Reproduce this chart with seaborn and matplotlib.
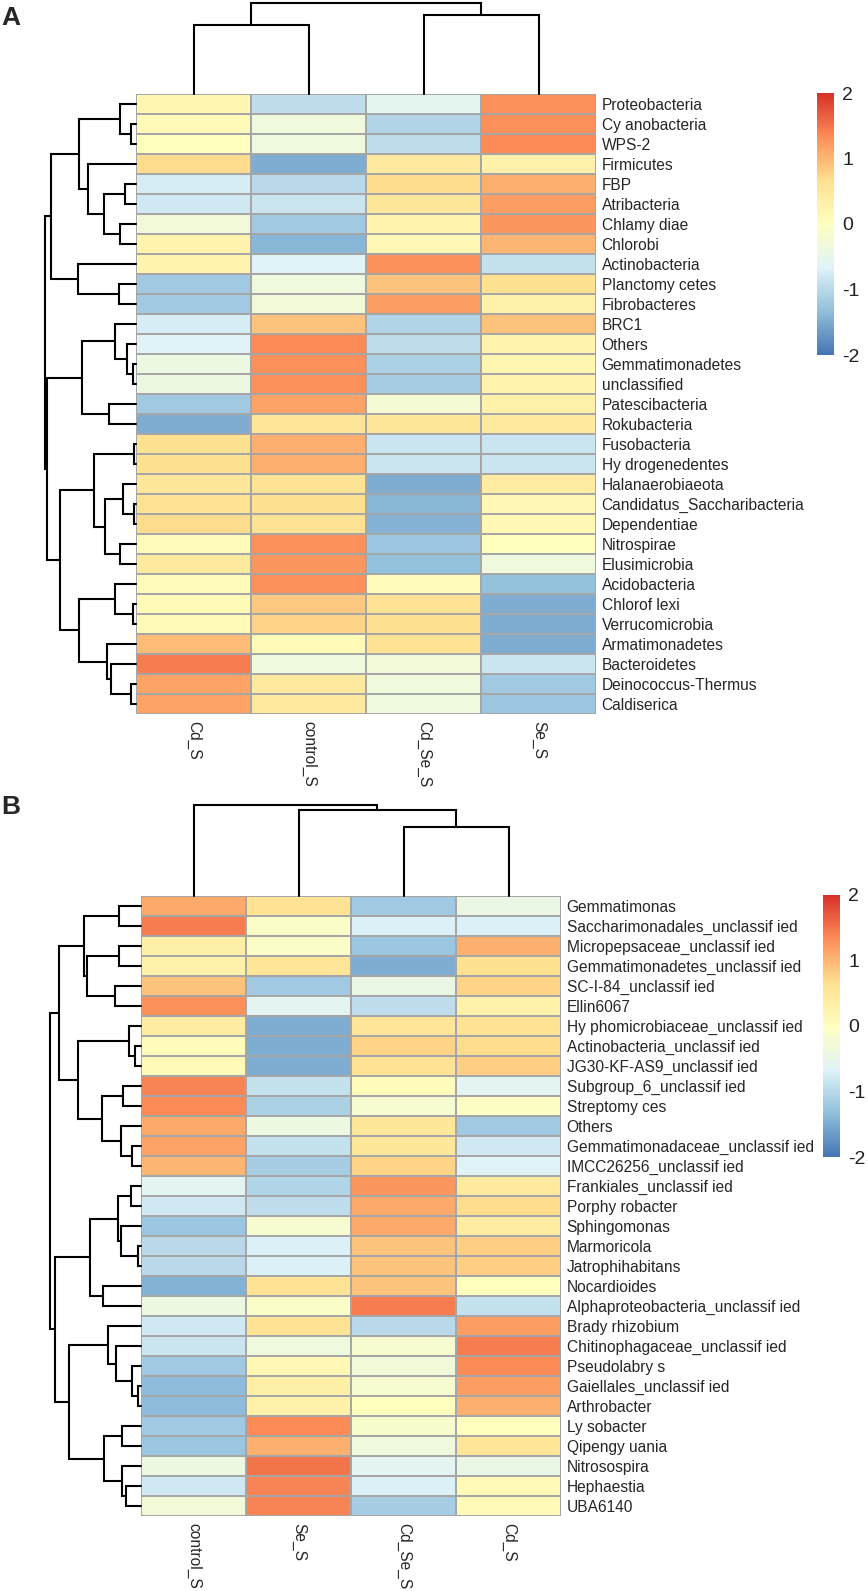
import matplotlib
matplotlib.use("Agg")
import numpy as np
import pandas as pd
import matplotlib.pyplot as plt
import seaborn as sns

# ---- panel A: phylum level (row z-scores) ----
A_cols = ["Cd_S", "control_S", "Cd_Se_S", "Se_S"]
A_rows = ["Proteobacteria", "Cy anobacteria", "WPS-2", "Firmicutes", "FBP",
          "Atribacteria", "Chlamy diae", "Chlorobi", "Actinobacteria",
          "Planctomy cetes", "Fibrobacteres", "BRC1", "Others",
          "Gemmatimonadetes", "unclassified", "Patescibacteria", "Rokubacteria",
          "Fusobacteria", "Hy drogenedentes", "Halanaerobiaeota",
          "Candidatus_Saccharibacteria", "Dependentiae", "Nitrospirae",
          "Elusimicrobia", "Acidobacteria", "Chlorof lexi", "Verrucomicrobia",
          "Armatimonadetes", "Bacteroidetes", "Deinococcus-Thermus", "Caldiserica"]
A_cd_s = [0.2, 0.1, 0.0, 0.7, -0.75, -0.8, -0.3, 0.25, 0.25, -1.2, -1.2,
          -0.75, -0.65, -0.4, -0.4, -1.2, -1.5, 0.65, 0.65, 0.5, 0.6, 0.7,
          0.05, 0.45, 0.05, 0.1, 0.1, 0.95, 1.45, 1.15, 1.15]
A_control_s = [-0.95, -0.35, -0.35, -1.5, -1.0, -0.85, -1.2, -1.4, -0.65,
               -0.35, -0.3, 0.9, 1.35, 1.3, 1.3, 1.15, 0.55, 1.05, 1.05, 0.6,
               0.65, 0.6, 1.3, 1.25, 1.3, 0.85, 0.75, 0.1, -0.35, 0.45, 0.45]
A_cd_se_s = [-0.55, -1.05, -0.95, 0.45, 0.7, 0.5, 0.25, 0.15, 1.3, 0.9, 1.2,
             -1.05, -0.95, -1.1, -1.15, -0.25, 0.5, -0.85, -0.85, -1.5, -1.4,
             -1.45, -1.25, -1.3, 0.05, 0.6, 0.65, 0.6, -0.3, -0.35, -0.35]
A_se_s = [1.3, 1.3, 1.35, 0.3, 1.05, 1.2, 1.25, 1.0, -0.9, 0.65, 0.3, 0.9,
          0.25, 0.2, 0.25, 0.3, 0.45, -0.85, -0.85, 0.4, 0.15, 0.15, 0.0,
          -0.35, -1.3, -1.5, -1.5, -1.5, -0.85, -1.2, -1.25]
# linkage: (child, child, height); ids >= n_leaves are earlier merges
A_row_tree = [(1, 2, 0.051), (0, 31, 0.18), (4, 5, 0.118), (6, 7, 0.18),
              (33, 34, 0.349), (3, 35, 0.529), (32, 36, 0.625), (9, 10, 0.191),
              (8, 38, 0.64), (37, 39, 0.9375), (13, 14, 0.037), (12, 41, 0.099),
              (11, 42, 0.235), (15, 16, 0.30), (43, 44, 0.596), (17, 18, 0.02),
              (20, 21, 0.02), (19, 47, 0.139), (22, 23, 0.18), (48, 49, 0.338),
              (46, 50, 0.464), (25, 26, 0.028), (24, 52, 0.233), (29, 30, 0.06),
              (28, 54, 0.273), (27, 55, 0.32), (53, 56, 0.63), (51, 57, 0.84),
              (45, 58, 0.978), (40, 59, 1.0)]
A_col_tree = [(0, 1, 0.762), (2, 3, 0.872), (4, 5, 1.0)]

# ---- panel B: genus level ----
B_cols = ["control_S", "Se_S", "Cd_Se_S", "Cd_S"]
B_rows = ["Gemmatimonas", "Saccharimonadales_unclassif ied",
          "Micropepsaceae_unclassif ied", "Gemmatimonadetes_unclassif ied",
          "SC-I-84_unclassif ied", "Ellin6067", "Hy phomicrobiaceae_unclassif ied",
          "Actinobacteria_unclassif ied", "JG30-KF-AS9_unclassif ied",
          "Subgroup_6_unclassif ied", "Streptomy ces", "Others",
          "Gemmatimonadaceae_unclassif ied", "IMCC26256_unclassif ied",
          "Frankiales_unclassif ied", "Porphy robacter", "Sphingomonas",
          "Marmoricola", "Jatrophihabitans", "Nocardioides",
          "Alphaproteobacteria_unclassif ied", "Brady rhizobium",
          "Chitinophagaceae_unclassif ied", "Pseudolabry s",
          "Gaiellales_unclassif ied", "Arthrobacter", "Ly sobacter",
          "Qipengy uania", "Nitrosospira", "Hephaestia", "UBA6140"]
B_control_s = [1.1, 1.45, 0.35, 0.3, 0.9, 1.3, 0.4, 0.05, 0.1, 1.4, 1.35,
               1.1, 1.15, 1.0, -0.6, -0.8, -1.25, -1.0, -1.0, -1.45, -0.4,
               -0.8, -0.85, -1.2, -1.35, -1.35, -1.2, -1.25, -0.4, -0.8, -0.3]
B_se_s = [0.6, -0.1, -0.1, 0.55, -1.2, -0.6, -1.5, -1.5, -1.5, -0.9, -1.1,
          -0.4, -0.9, -1.15, -1.05, -0.95, -0.2, -0.7, -0.7, 0.6, -0.1, 0.6,
          -0.35, 0.15, 0.35, 0.3, 1.35, 1.05, 1.5, 1.4, 1.4]
B_cd_se_s = [-1.2, -0.7, -1.25, -1.5, -0.45, -0.95, 0.55, 0.75, 0.6, 0.05,
             -0.2, 0.5, 0.5, 0.75, 1.25, 1.1, 1.1, 0.9, 0.9, 0.9, 1.45, -1.0,
             -0.2, -0.3, -0.2, 0.0, -0.15, -0.35, -0.6, -0.7, -1.15]
B_cd_s = [-0.45, -0.7, 1.05, 0.65, 0.75, 0.3, 0.6, 0.7, 0.8, -0.6, -0.05,
          -1.2, -0.8, -0.65, 0.45, 0.7, 0.4, 0.8, 0.8, 0.0, -0.9, 1.2, 1.45,
          1.35, 1.2, 1.05, 0.0, 0.55, -0.45, 0.1, 0.1]
B_row_tree = [(0, 1, 0.239), (2, 3, 0.239), (4, 5, 0.287), (32, 33, 0.588),
              (31, 34, 0.629), (7, 8, 0.066), (6, 36, 0.132), (9, 10, 0.195),
              (12, 13, 0.103), (11, 39, 0.224), (38, 40, 0.426), (37, 41, 0.691),
              (35, 42, 0.904), (14, 15, 0.11), (17, 18, 0.03), (16, 45, 0.224),
              (44, 46, 0.25), (19, 20, 0.415), (47, 48, 0.555), (24, 25, 0.03),
              (23, 50, 0.103), (22, 51, 0.276), (21, 52, 0.36), (26, 27, 0.213),
              (29, 30, 0.165), (28, 55, 0.213), (54, 56, 0.404), (53, 57, 0.794),
              (49, 58, 0.949), (43, 59, 1.0)]
B_col_tree = [(2, 3, 0.756), (1, 4, 0.949), (0, 5, 1.0)]

# pheatmap default palette (reversed RdYlBu, 7 colours)
RDYLBU7 = ["#4575B4", "#91BFDB", "#E0F3F8", "#FFFFBF", "#FEE090", "#FC8D59", "#D73027"]
CMAP = sns.blend_palette(RDYLBU7, n_colors=100, as_cmap=True)

W, H = 868, 1591
LABEL_SIZE = 11.2
sns.set_style("white")
plt.rcParams['font.family'] = ['Liberation Sans', 'DejaVu Sans']
plt.rcParams['axes.unicode_minus'] = False


def px_axes(fig, x, y, w, h):
    return fig.add_axes([x / W, 1 - (y + h) / H, w / W, h / H])


def draw_dendro(ax, tree, n, orient):
    pos = [i + 0.5 for i in range(n)]
    hgt = [0.0] * n
    for a, b, h in tree:
        xs = [pos[a], pos[a], pos[b], pos[b]]
        ys = [hgt[a], h, h, hgt[b]]
        if orient == "top":
            ax.plot(xs, ys, color="black", lw=1.5, clip_on=False, solid_joinstyle="miter")
        else:
            ax.plot(ys, xs, color="black", lw=1.5, clip_on=False, solid_joinstyle="miter")
        pos.append((pos[a] + pos[b]) / 2)
        hgt.append(h)
    if orient == "top":
        ax.set_xlim(0, n)
        ax.set_ylim(0, 1)
    else:
        ax.set_ylim(n, 0)
        ax.set_xlim(1, 0)
    ax.axis("off")


def draw_panel(fig, letter, df, row_tree, col_tree, hx, hy, hw, hh, cbx, letter_y):
    ax = px_axes(fig, hx, hy, hw, hh)
    cax = px_axes(fig, cbx, hy - 1, 17, 262)
    sns.heatmap(df, ax=ax, cmap=CMAP, vmin=-2, vmax=2, linewidths=1.2,
                linecolor="#a6a6a6", cbar_ax=cax,
                cbar_kws={"ticks": [-2, -1, 0, 1, 2]})
    ax.yaxis.tick_right()
    ax.set_yticks(np.arange(len(df.index)) + 0.5)
    ax.set_yticklabels(df.index, rotation=0, fontsize=LABEL_SIZE)
    ax.set_xticklabels(df.columns, rotation=-90, fontsize=LABEL_SIZE,
                       va="top", ha="center")
    ax.tick_params(axis="y", length=0, pad=4)
    ax.tick_params(axis="x", length=0, pad=5)
    ax.set_xlabel("")
    ax.set_ylabel("")

    cbar = ax.collections[0].colorbar
    cbar.outline.set_visible(False)
    cbar.ax.tick_params(length=0, labelsize=14, pad=6, colors="#222222")

    top = px_axes(fig, hx, hy - 91, hw, 91)
    draw_dendro(top, col_tree, len(df.columns), "top")
    left = px_axes(fig, hx - 91, hy, 91, hh)
    draw_dendro(left, row_tree, len(df.index), "left")

    fig.text(1 / W, 1 - letter_y / H, letter, fontsize=19, fontweight="bold",
             ha="left", va="top")


fig = plt.figure(figsize=(W / 100, H / 100), dpi=100)

df_a = pd.DataFrame({"Cd_S": A_cd_s, "control_S": A_control_s,
                     "Cd_Se_S": A_cd_se_s, "Se_S": A_se_s}, index=A_rows)[A_cols]
df_b = pd.DataFrame({"control_S": B_control_s, "Se_S": B_se_s,
                     "Cd_Se_S": B_cd_se_s, "Cd_S": B_cd_s}, index=B_rows)[B_cols]

draw_panel(fig, "A", df_a, A_row_tree, A_col_tree, 136, 94, 460, 620, 817, 6)
draw_panel(fig, "B", df_b, B_row_tree, B_col_tree, 141, 896, 420, 620, 823, 795)

fig.savefig("out.png", dpi=100)
